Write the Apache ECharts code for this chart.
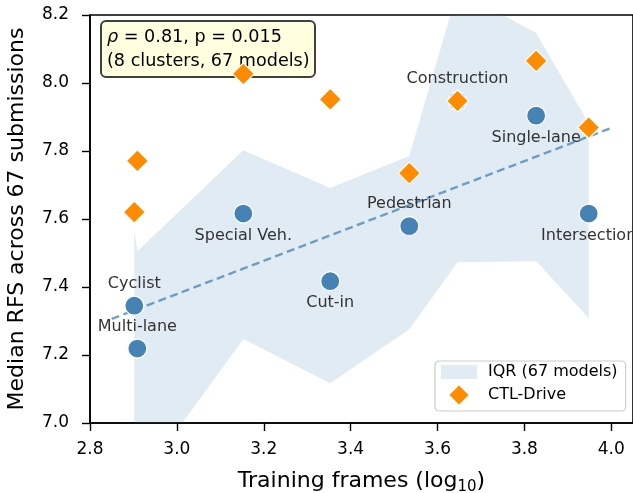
<!DOCTYPE html>
<html>
<head>
<meta charset="utf-8">
<script src="https://cdn.jsdelivr.net/npm/echarts@6/dist/echarts.min.js"></script>
<style>html,body{margin:0;padding:0;background:#fff}#c{width:633px;height:493px}</style>
</head>
<body>
<div id="c"></div>
<script>
// ---- data ----
const clusterNames  = ['Cyclist','Multi-lane','Special Veh.','Cut-in','Pedestrian','Construction','Single-lane','Intersection'];
const clusterX      = [2.902, 2.909, 3.153, 3.353, 3.535, 3.646, 3.827, 3.948];
const clusterMedian = [7.345, 7.219, 7.616, 7.417, 7.579, 7.947, 7.904, 7.616];
const ctlDrive      = [7.620, 7.771, 8.027, 7.952, 7.735, 7.947, 8.065, 7.869];
const iqrLow        = [6.800, 6.818, 7.247, 7.117, 7.276, 7.473, 7.476, 7.309];
const iqrHigh       = [7.572, 7.505, 7.802, 7.691, 7.785, 8.272, 8.147, 7.881];
const trendX        = [2.85, 4.00];
const trendY        = [7.306, 7.868];
const xTicks        = [2.8, 3.0, 3.2, 3.4, 3.6, 3.8, 4.0];
const yTicks        = [7.0, 7.2, 7.4, 7.6, 7.8, 8.0, 8.2];
const annotationLines = ['{i|ρ} = 0.81, p = 0.015', '(8 clusters, 67 models)'];

// ---- style ----
const labelSide = ['top','top','bottom','bottom','top','top','bottom','bottom'];
const FONT = 'DejaVu Sans';
const bandColor = 'rgba(70,130,180,0.16)';

const chart = echarts.init(document.getElementById('c'), null, {renderer:'canvas'});

function isTick(v, ticks){ return ticks.some(t => Math.abs(t - v) < 1e-6); }

chart.setOption({
  animation: false,
  backgroundColor: '#fff',
  grid: {left: 90, right: 0, top: 15, bottom: 70, outerBoundsMode: 'none', containLabel: false,
    show: true, borderColor: '#000', borderWidth: 1.6, backgroundColor: 'transparent'},
  title: {
    text: annotationLines.join('\n'),
    left: 101, top: 21,
    backgroundColor: '#ffffe0', borderColor: '#404040', borderWidth: 2, borderRadius: 5,
    padding: [4, 6, 4, 6],
    z: 6,
    textStyle: {fontFamily: FONT, fontSize: 17.6, fontWeight: 'normal', color: '#000', lineHeight: 24,
      rich: {i: {fontFamily: FONT, fontSize: 17.6, fontStyle: 'italic', color: '#000', lineHeight: 24}}}
  },
  legend: {
    left: 435, top: 361, orient: 'vertical',
    itemWidth: 36, itemHeight: 22, itemGap: 3,
    padding: [3, 8, 4, 6],
    backgroundColor: 'rgba(255,255,255,0.8)', borderColor: '#cccccc', borderWidth: 1.2, borderRadius: 4,
    textStyle: {fontFamily: FONT, fontSize: 16, color: '#000', padding: [0, 0, 0, 6]},
    data: [
      {name: 'IQR (67 models)', icon: 'path://M0,0L36,0L36,14L0,14Z'},
      {name: 'CTL-Drive', icon: 'path://M0,-1L1,0L0,1L-1,0Z'}
    ]
  },
  xAxis: {
    type: 'value', min: 2.8, max: 4.05, interval: 0.2,
    name: 'Training frames (log{sub|10})', nameLocation: 'middle', nameGap: 44,
    nameTextStyle: {fontFamily: FONT, fontSize: 22, color: '#000', lineHeight: 28,
      rich: {sub: {fontFamily: FONT, fontSize: 15, color: '#000', lineHeight: 15, verticalAlign: 'bottom'}}},
    splitLine: {show: false},
    axisLine: {show: true, lineStyle: {color: '#000', width: 1.6}},
    axisTick: {show: true, length: 8, lineStyle: {color: '#000', width: 1.4}},
    axisLabel: {fontFamily: FONT, fontSize: 17, color: '#000', margin: 18, showMaxLabel: false,
      formatter: v => isTick(v, xTicks) ? v.toFixed(1) : ''}
  },
  yAxis: {
    type: 'value', min: 7.0, max: 8.2, interval: 0.2,
    name: 'Median RFS across 67 submissions', nameLocation: 'middle', nameGap: 62, nameRotate: 90,
    nameTextStyle: {fontFamily: FONT, fontSize: 22, color: '#000'},
    splitLine: {show: false},
    axisLine: {show: true, lineStyle: {color: '#000', width: 1.6}},
    axisTick: {show: true, length: 8, lineStyle: {color: '#000', width: 1.4}},
    axisLabel: {fontFamily: FONT, fontSize: 17, color: '#000', margin: 21,
      formatter: v => isTick(v, yTicks) ? v.toFixed(1) : ''}
  },
  series: [
    {
      name: 'IQR (67 models)', type: 'custom', clip: true, z: 1,
      itemStyle: {color: bandColor},
      data: clusterX.map((x, i) => [x, iqrLow[i], iqrHigh[i]]),
      encode: {x: 0, y: [1, 2]},
      renderItem: function (params, api) {
        if (params.dataIndex !== 0) return null;
        const pts = [];
        for (let i = 0; i < clusterX.length; i++) pts.push(api.coord([clusterX[i], iqrHigh[i]]));
        for (let i = clusterX.length - 1; i >= 0; i--) pts.push(api.coord([clusterX[i], iqrLow[i]]));
        return {type: 'polygon', shape: {points: pts}, style: {fill: bandColor}};
      }
    },
    {
      name: 'trend', type: 'line', z: 2, symbol: 'none', silent: true,
      data: trendX.map((x, i) => [x, trendY[i]]),
      lineStyle: {color: 'rgba(70,130,180,0.75)', width: 2.4, type: [8, 4.5]}
    },
    {
      name: 'Cluster median', type: 'scatter', z: 3, symbol: 'circle', symbolSize: 19,
      itemStyle: {color: '#4682b4', borderColor: '#fff', borderWidth: 1.2, opacity: 1},
      label: {show: true, formatter: p => p.name, fontFamily: FONT, fontSize: 16, color: '#333', distance: 4},
      data: clusterX.map((x, i) => ({name: clusterNames[i], value: [x, clusterMedian[i]], label: {position: labelSide[i]}}))
    },
    {
      name: 'CTL-Drive', type: 'scatter', z: 10, symbol: 'diamond', symbolSize: 22,
      itemStyle: {color: '#ff8c00', borderColor: '#fff', borderWidth: 1.2, opacity: 1},
      data: clusterX.map((x, i) => [x, ctlDrive[i]])
    }
  ]
});
</script>
</body>
</html>
